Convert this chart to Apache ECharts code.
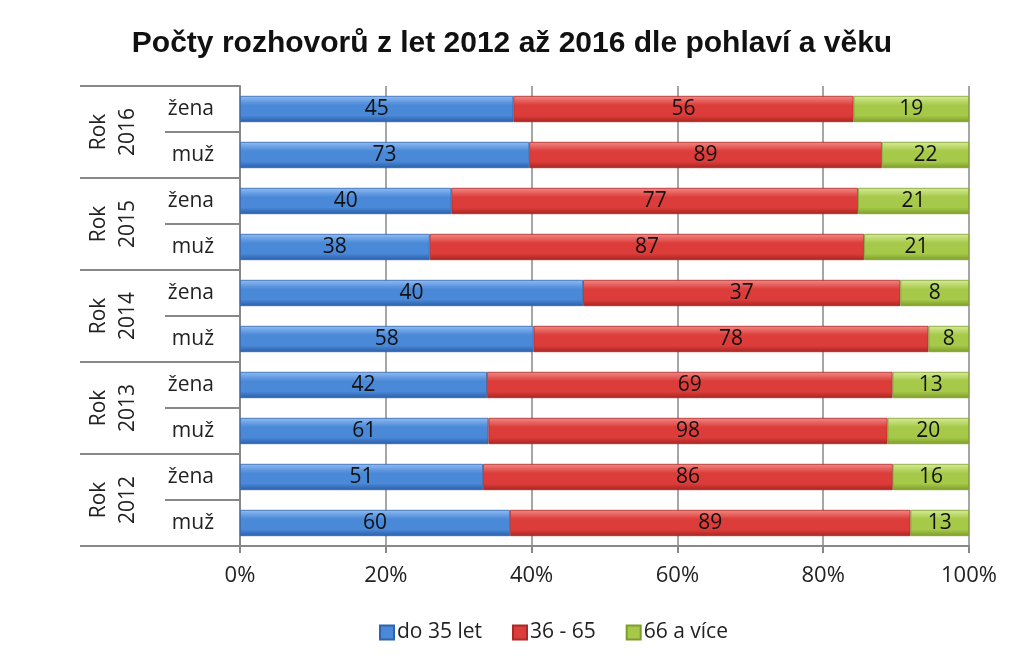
<!DOCTYPE html>
<html><head><meta charset="utf-8">
<script src="https://cdn.jsdelivr.net/npm/echarts@6/dist/echarts.min.js"></script>
<style>html,body{margin:0;padding:0;background:#fff}#c{width:1024px;height:657px}</style>
</head><body><div id="c"></div>
<script>
// categories top to bottom
const years = ['Rok\n2016', 'Rok\n2015', 'Rok\n2014', 'Rok\n2013', 'Rok\n2012'];
const genders = ['žena', 'muž', 'žena', 'muž', 'žena', 'muž', 'žena', 'muž', 'žena', 'muž'];
const seriesNames = ['do 35 let', '36 - 65', '66 a více'];
const young = [45, 73, 40, 38, 40, 58, 42, 61, 51, 60];
const middle = [56, 89, 77, 87, 37, 78, 69, 98, 86, 89];
const old = [19, 22, 21, 21, 8, 8, 13, 20, 16, 13];
const xTicks = [0, 20, 40, 60, 80, 100];

const totals = young.map((v, i) => v + middle[i] + old[i]);
const font = '"Open Sans", "Noto Sans", sans-serif';

function grad(top, mid, bot) {
  return new echarts.graphic.LinearGradient(0, 0, 0, 1, [
    {offset: 0, color: top}, {offset: 0.35, color: mid}, {offset: 0.75, color: mid}, {offset: 1, color: bot}
  ]);
}
const colors = [
  grad('#8fbdf2', '#4a88d8', '#2a5ea8'),
  grad('#f28a86', '#dc3d3a', '#a82422'),
  grad('#d6eb98', '#a6c949', '#7d9c2a')
];
const borders = ['#2f64ad', '#a92a27', '#7e9d2d'];
const flat = ['#4a88d8', '#dc3d3a', '#a6c949'];
const raw = [young, middle, old];

const chart = echarts.init(document.getElementById('c'));
chart.setOption({
  animation: false,
  title: {
    text: 'Počty rozhovorů z let 2012 až 2016 dle pohlaví a věku',
    left: 'center', top: 24,
    textStyle: {fontFamily: 'Liberation Sans, Arial, sans-serif', fontSize: 30, fontWeight: 'bold', color: '#111'}
  },
  legend: {
    data: seriesNames.map((n, i) => ({name: n, itemStyle: {color: flat[i]}})),
    bottom: 9, left: 374,
    icon: 'rect', itemWidth: 14, itemHeight: 14, itemGap: 30,
    textStyle: {fontFamily: font, fontSize: 21, color: '#222', padding: [0, 0, 0, -2]}
  },
  grid: {left: 240, right: 55, top: 86, bottom: 111, containLabel: false},
  xAxis: {
    type: 'value', min: 0, max: 100, interval: 20,
    axisLabel: {formatter: v => v + '%', fontFamily: font, fontSize: 22, color: '#222', margin: 19},
    axisLine: {show: true, lineStyle: {color: '#888', width: 2}},
    axisTick: {show: true, length: 7, lineStyle: {color: '#888', width: 2}},
    splitLine: {show: true, lineStyle: {color: '#888', width: 1.5}}
  },
  yAxis: [
    {
      type: 'category', data: genders, inverse: true,
      axisLine: {show: true, lineStyle: {color: '#888', width: 2}},
      axisTick: {show: true, length: 75, lineStyle: {color: '#888', width: 2}},
      axisLabel: {fontFamily: font, fontSize: 21, color: '#222', margin: 26}
    },
    {
      type: 'category', data: years, inverse: true, position: 'left',
      axisLine: {show: false},
      axisTick: {show: true, length: 160, lineStyle: {color: '#888', width: 2}},
      axisLabel: {rotate: 90, fontFamily: font, fontSize: 21, color: '#222', margin: 97, lineHeight: 29}
    }
  ],
  series: raw.map((arr, si) => ({
    name: seriesNames[si], type: 'bar', stack: 'total', yAxisIndex: 0,
    barWidth: '57%',
    itemStyle: {color: colors[si], borderColor: borders[si], borderWidth: 0.8},
    label: {
      show: true, position: 'inside', fontFamily: font, fontSize: 21, color: '#111',
      formatter: p => arr[p.dataIndex]
    },
    data: arr.map((v, i) => v / totals[i] * 100)
  }))
});
</script></body></html>
